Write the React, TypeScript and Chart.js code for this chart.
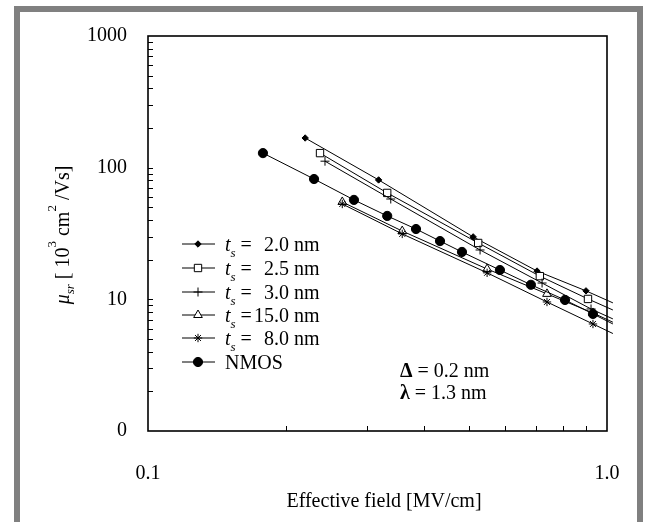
import React, { useEffect, useRef } from "react";
import { Chart, registerables } from "chart.js";
import { drawPoint } from "chart.js/helpers";

Chart.register(...registerables);

const FAM = "'Liberation Serif', 'Times New Roman', serif";
const F20 = `20px ${FAM}`;
const F20I = `italic 20px ${FAM}`;
const F20B = `bold 20px ${FAM}`;
const F13 = `13px ${FAM}`;
const F13I = `italic 13px ${FAM}`;

// Axis ticks
const xTickValues = [0.1, 1];
const xTickLabels = ["0.1", "1.0"];
const yTickValues = [1, 10, 100, 1000];
const yTickLabels = ["0", "10", "100", "1000"];

// Series (last point of each is where the drawn line ends, no marker)
const ts20X = [0.22, 0.318, 0.511, 0.704, 0.9, 1.03];
const ts20Y = [168, 80.7, 29.8, 16.4, 11.6, 9.4];
const ts25X = [0.237, 0.332, 0.524, 0.714, 0.909, 1.03];
const ts25Y = [129, 64.3, 26.8, 15.0, 10.07, 8.3];
const ts30X = [0.243, 0.338, 0.529, 0.722, 0.923, 1.03];
const ts30Y = [112, 57.8, 23.7, 13.3, 8.45, 7.1];
const ts150X = [0.265, 0.358, 0.548, 0.74, 0.932, 1.03];
const ts150Y = [54.9, 33.0, 17.0, 11.0, 7.88, 6.7];
const ts80X = [0.265, 0.358, 0.548, 0.74, 0.932, 1.03];
const ts80Y = [53.0, 31.4, 15.9, 9.55, 6.5, 5.5];
const nmosX = [0.178, 0.23, 0.281, 0.332, 0.3836, 0.4327, 0.4831, 0.5844, 0.6826, 0.81, 0.932, 1.03];
const nmosY = [129, 82, 56.9, 43, 34.2, 27.7, 22.9, 16.7, 12.9, 9.89, 7.75, 6.5];

const legendNumbers = ["2.0", "2.5", "3.0", "15.0", "8.0"];
const legendLast = "NMOS";
const noteLines = [
  { sym: "\u0394", rest: " = 0.2 nm" },
  { sym: "\u03bb", rest: " = 1.3 nm" },
];

type Style = { pointStyle: string; radius: number; fill: string };
const styles: Style[] = [
  { pointStyle: "rectRot", radius: 3.2, fill: "#000" },
  { pointStyle: "rect", radius: 5.2, fill: "#fff" },
  { pointStyle: "cross", radius: 4.5, fill: "#000" },
  { pointStyle: "triangle", radius: 5, fill: "#fff" },
  { pointStyle: "star", radius: 4.2, fill: "#000" },
  { pointStyle: "circle", radius: 4.6, fill: "#000" },
];

type Run = { t: string; font: string; dy?: number };
function runsWidth(ctx: CanvasRenderingContext2D, runs: Run[]) {
  let w = 0;
  for (const r of runs) {
    ctx.font = r.font;
    w += ctx.measureText(r.t).width;
  }
  return w;
}
function drawRuns(ctx: CanvasRenderingContext2D, runs: Run[], x: number, y: number) {
  let cx = x;
  for (const r of runs) {
    ctx.font = r.font;
    ctx.fillText(r.t, cx, y + (r.dy || 0));
    cx += ctx.measureText(r.t).width;
  }
}

const deco = {
  id: "deco",
  beforeDraw(chart: any) {
    const ctx: CanvasRenderingContext2D = chart.ctx;
    ctx.save();
    ctx.fillStyle = "#fff";
    ctx.fillRect(0, 0, chart.width, chart.height);
    ctx.fillStyle = "#808080";
    ctx.fillRect(14, 6, 6, 530);
    ctx.fillRect(14, 6, 629, 6);
    ctx.fillRect(637, 6, 6, 530);
    ctx.restore();
  },
  afterDraw(chart: any) {
    const ctx: CanvasRenderingContext2D = chart.ctx;
    const { left, right, top, bottom } = chart.chartArea;
    const xs = chart.scales.x;
    const ys = chart.scales.y;
    ctx.save();
    // frame
    ctx.strokeStyle = "#000";
    ctx.lineWidth = 1.6;
    ctx.strokeRect(left, top, right - left, bottom - top);
    // ticks
    ctx.lineWidth = 1;
    ctx.beginPath();
    for (let d = 1; d < 1000; d *= 10) {
      for (let m = 1; m <= 9; m++) {
        const v = d * m;
        if (v === 1) continue;
        const py = Math.round(ys.getPixelForValue(v)) + 0.5;
        ctx.moveTo(left, py);
        ctx.lineTo(left + 5, py);
      }
    }
    for (let m = 2; m <= 9; m++) {
      const px = Math.round(xs.getPixelForValue(m / 10)) + 0.5;
      ctx.moveTo(px, bottom);
      ctx.lineTo(px, bottom - 5);
    }
    ctx.stroke();
    // tick labels
    ctx.fillStyle = "#000";
    ctx.font = F20;
    ctx.textBaseline = "middle";
    ctx.textAlign = "right";
    yTickValues.forEach((v, i) => {
      ctx.fillText(yTickLabels[i], 127, ys.getPixelForValue(v));
    });
    ctx.textAlign = "center";
    xTickValues.forEach((v, i) => {
      ctx.fillText(xTickLabels[i], xs.getPixelForValue(v), 474);
    });
    // x title
    ctx.fillText("Effective field [MV/cm]", 384, 502);
    // y title
    ctx.textAlign = "left";
    ctx.textBaseline = "alphabetic";
    const yRuns: Run[] = [
      { t: "\u03bc", font: F20I },
      { t: "sr", font: F13I, dy: 5 },
      { t: " [ 10", font: F20 },
      { t: "3", font: F13, dy: -13 },
      { t: " cm", font: F20 },
      { t: "2", font: F13, dy: -13 },
      { t: " /Vs]", font: F20 },
    ];
    const w = runsWidth(ctx, yRuns);
    ctx.save();
    ctx.translate(62, 235);
    ctx.rotate(-Math.PI / 2);
    drawRuns(ctx, yRuns, -w / 2, 7);
    ctx.restore();
    // legend
    const rows = [244, 268, 292, 315, 338, 362];
    rows.forEach((yc, i) => {
      const st = styles[i];
      ctx.strokeStyle = "#000";
      ctx.lineWidth = 1;
      ctx.beginPath();
      ctx.moveTo(182, yc);
      ctx.lineTo(215, yc);
      ctx.stroke();
      ctx.fillStyle = st.fill;
      drawPoint(ctx, { pointStyle: st.pointStyle as any, radius: st.radius, rotation: 0, borderWidth: 1 } as any, 198, yc);
      ctx.fillStyle = "#000";
      const base = yc + 7;
      if (i < legendNumbers.length) {
        drawRuns(ctx, [
          { t: "t", font: F20I },
          { t: "s", font: F13I, dy: 6 },
          { t: " =", font: F20 },
        ], 225, base);
        ctx.font = F20;
        ctx.textAlign = "right";
        ctx.fillText(legendNumbers[i], 289, base);
        ctx.textAlign = "left";
        ctx.fillText(" nm", 289, base);
      } else {
        ctx.font = F20;
        ctx.fillText(legendLast, 225, base);
      }
    });
    // notes
    [370, 392].forEach((yc, i) => {
      drawRuns(ctx, [
        { t: noteLines[i].sym, font: F20B },
        { t: noteLines[i].rest, font: F20 },
      ], 400, yc + 7);
    });
    ctx.restore();
  },
};

function mk(label: string, xs: number[], ys: number[], st: Style) {
  return {
    label,
    data: xs.map((x, i) => ({ x, y: ys[i] })),
    showLine: true,
    borderColor: "#000",
    borderWidth: 1,
    pointStyle: st.pointStyle,
    pointRadius: xs.map((_, i) => (i === xs.length - 1 ? 0 : st.radius)),
    pointBackgroundColor: st.fill,
    pointBorderColor: "#000",
    pointBorderWidth: 1,
    clip: false as any,
  };
}

export default function App() {
  const ref = useRef<HTMLCanvasElement | null>(null);
  useEffect(() => {
    if (!ref.current) return;
    const chart = new Chart(ref.current, {
      type: "scatter",
      data: {
        datasets: [
          mk("NMOS", nmosX, nmosY, styles[5]),
          mk("ts 8.0", ts80X, ts80Y, styles[4]),
          mk("ts 15.0", ts150X, ts150Y, styles[3]),
          mk("ts 3.0", ts30X, ts30Y, styles[2]),
          mk("ts 2.5", ts25X, ts25Y, styles[1]),
          mk("ts 2.0", ts20X, ts20Y, styles[0]),
        ] as any,
      },
      options: {
        responsive: false,
        animation: false,
        devicePixelRatio: 1,
        layout: { padding: { left: 0, right: 39, top: 36, bottom: 0 } },
        plugins: { legend: { display: false }, tooltip: { enabled: false } },
        scales: {
          x: {
            type: "logarithmic",
            min: 0.1,
            max: 1,
            grid: { display: false, drawTicks: false },
            border: { display: false },
            ticks: { display: false },
            afterBuildTicks: (s: any) => {
              s.ticks = xTickValues.map((v) => ({ value: v }));
            },
            afterFit: (s: any) => {
              s.height = 91;
            },
          },
          y: {
            type: "logarithmic",
            min: 1,
            max: 1000,
            grid: { display: false, drawTicks: false },
            border: { display: false },
            ticks: { display: false },
            afterBuildTicks: (s: any) => {
              s.ticks = yTickValues.map((v) => ({ value: v }));
            },
            afterFit: (s: any) => {
              s.width = 148;
            },
          },
        },
      },
      plugins: [deco],
    } as any);
    return () => chart.destroy();
  }, []);
  return (
    <div style={{ position: "fixed", left: 0, top: 0, width: 646, height: 522, background: "#fff" }}>
      <canvas ref={ref} width={646} height={522} style={{ display: "block", width: 646, height: 522 }} />
    </div>
  );
}
